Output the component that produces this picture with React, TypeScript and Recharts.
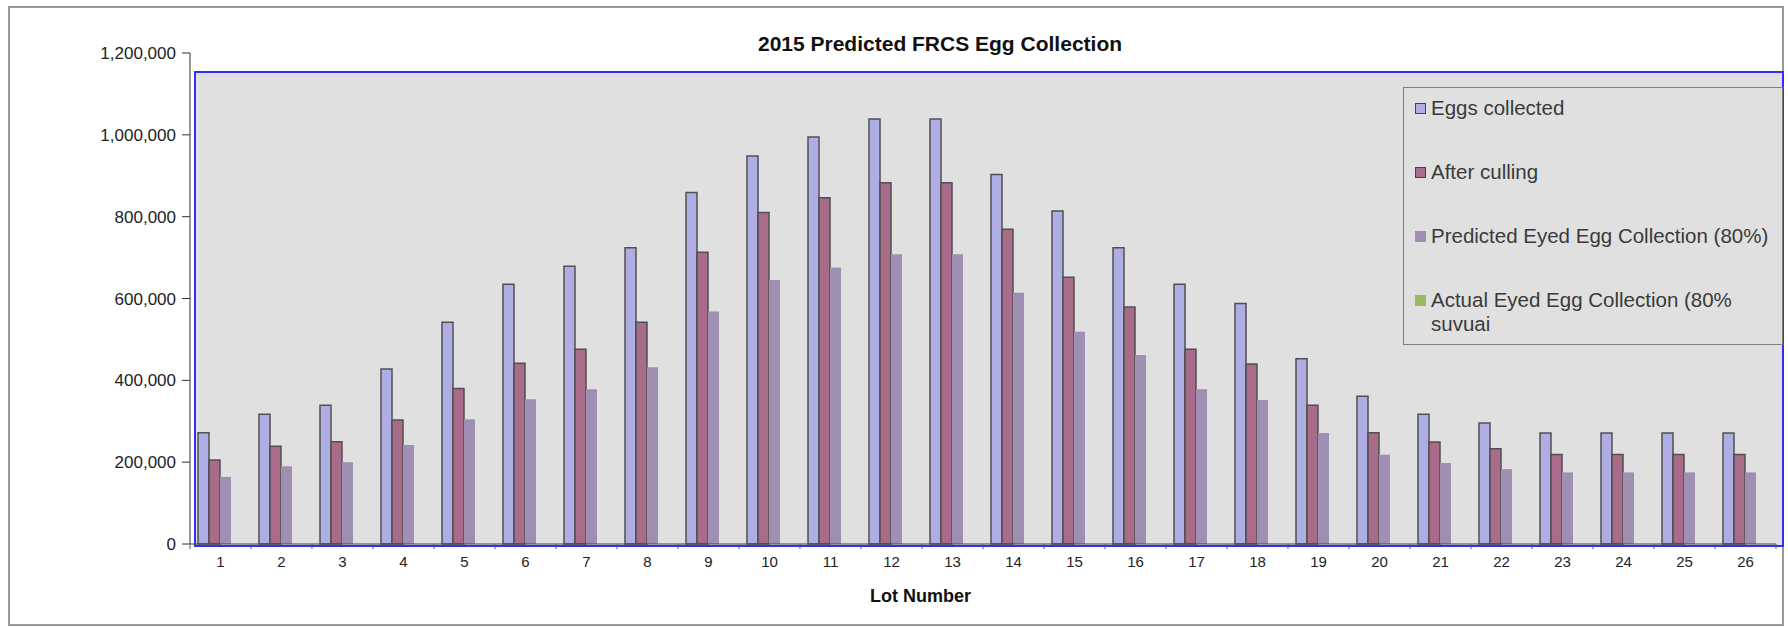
import { BarChart, Bar, XAxis, YAxis, Legend } from "recharts";

// lot numbers along the x axis
const LOTS = [
  "1", "2", "3", "4", "5", "6", "7", "8", "9", "10", "11", "12", "13",
  "14", "15", "16", "17", "18", "19", "20", "21", "22", "23", "24", "25", "26",
];

const EGGS_COLLECTED = [
  272000, 317000, 339000, 428000, 542000, 635000, 679000, 724000, 859000,
  948000, 995000, 1039000, 1039000, 903000, 814000, 724000, 635000, 588000,
  453000, 361000, 317000, 296000, 271000, 271000, 271000, 271000,
];

const AFTER_CULLING = [
  205000, 239000, 250000, 303000, 380000, 442000, 476000, 542000, 713000,
  810000, 846000, 883000, 883000, 769000, 652000, 579000, 476000, 440000,
  339000, 272000, 249000, 233000, 219000, 219000, 219000, 219000,
];

const PREDICTED_EYED = [
  164000, 190000, 200000, 242000, 305000, 354000, 378000, 432000, 568000,
  645000, 676000, 708000, 708000, 614000, 519000, 462000, 378000, 352000,
  271000, 218000, 198000, 183000, 175000, 175000, 175000, 175000,
];

// no actual numbers were entered yet in the source sheet
const ACTUAL_EYED: (number | null)[] = [];

const Y_TICKS = [0, 200000, 400000, 600000, 800000, 1000000, 1200000];

const SERIES = [
  { key: "eggs", name: "Eggs collected", fill: "#AEAEE4", stroke: "#505050" },
  { key: "culled", name: "After culling", fill: "#A86C8A", stroke: "#505050" },
  { key: "predicted", name: "Predicted Eyed Egg Collection (80%)", fill: "#9F8FB3", stroke: "none" },
  { key: "actual", name: "Actual Eyed Egg Collection (80% suvuai", fill: "#9BBB59", stroke: "none" },
];

const data = LOTS.map((lot, i) => ({
  lot,
  eggs: EGGS_COLLECTED[i],
  culled: AFTER_CULLING[i],
  predicted: PREDICTED_EYED[i],
  actual: ACTUAL_EYED[i] ?? null,
}));

const FONT = "'Liberation Sans', Arial, sans-serif";
const BAND = 1586 / LOTS.length;

function LotTick(props: any) {
  const { x, y, payload, index } = props;
  return (
    <g>
      <line x1={x - BAND / 2} x2={x - BAND / 2} y1={y} y2={y + 5} stroke="#555" />
      {index === LOTS.length - 1 && (
        <line x1={x + BAND / 2} x2={x + BAND / 2} y1={y} y2={y + 5} stroke="#555" />
      )}
      <text x={x} y={y + 23} textAnchor="middle" fontSize={15} fill="#222">
        {payload.value}
      </text>
    </g>
  );
}

// legend keeps the series order (recharts would sort it by name)
function LegendBox() {
  return (
    <div
      style={{
        boxSizing: "border-box",
        width: 380,
        height: 258,
        border: "1px solid #808080",
        background: "#e0e0e0",
        paddingTop: 8,
        paddingLeft: 11,
        fontFamily: FONT,
        fontSize: 20.5,
        color: "#3a3a3a",
      }}
    >
      {SERIES.map((s) => (
        <div
          key={s.key}
          style={{ display: "flex", alignItems: "flex-start", height: 24, marginBottom: 40, lineHeight: "24px" }}
        >
          <span
            style={{
              boxSizing: "border-box",
              display: "inline-block",
              width: 11,
              height: 11,
              marginTop: 7,
              marginRight: 5,
              background: s.fill,
              border: s.stroke !== "none" ? "1px solid #444" : "none",
              flexShrink: 0,
            }}
          />
          <span style={{ width: 350 }}>{s.name}</span>
        </div>
      ))}
    </div>
  );
}

export default function App() {
  return (
    <div style={{ position: "absolute", left: 0, top: 0, width: 1788, height: 628, background: "#fff", fontFamily: FONT }}>
      <div
        style={{
          position: "absolute", left: 8, top: 6, width: 1776, height: 620,
          boxSizing: "border-box", border: "2px solid #999",
        }}
      />
      <div
        style={{
          position: "absolute", left: 194, top: 71, width: 1590, height: 476,
          boxSizing: "border-box", background: "#e0e0e0", border: "2px solid #2f2ff8",
        }}
      />
      <div
        style={{
          position: "absolute", left: 740, top: 32, width: 400, textAlign: "center",
          fontSize: 21, fontWeight: "bold", lineHeight: "24px", color: "#111",
        }}
      >
        2015 Predicted FRCS Egg Collection
      </div>
      <div
        style={{
          position: "absolute", left: 870, top: 586, fontSize: 18, fontWeight: "bold",
          lineHeight: "20px", color: "#111", whiteSpace: "nowrap",
        }}
      >
        Lot Number
      </div>
      <div style={{ position: "absolute", left: 0, top: 0 }}>
        <BarChart
          width={1788}
          height={628}
          data={data}
          margin={{ top: 53, right: 12, bottom: 54, left: 0 }}
          barCategoryGap={8}
          barGap={0}
        >
          <XAxis
            dataKey="lot"
            height={30}
            tickLine={false}
            tickSize={0}
            tickMargin={0}
            axisLine={{ stroke: "#444" }}
            tick={<LotTick />}
            interval={0}
          />
          <YAxis
            width={190}
            domain={[0, 1200000]}
            ticks={Y_TICKS}
            tickSize={8}
            tickMargin={6}
            axisLine={{ stroke: "#333" }}
            tickLine={{ stroke: "#333" }}
            tick={{ fontSize: 17, fill: "#222" }}
            tickFormatter={(v: number) => v.toLocaleString("en-US")}
          />
          <Legend
            layout="vertical"
            align="center"
            verticalAlign="middle"
            wrapperStyle={{ position: "absolute", left: 1403, top: 87, width: 380, height: 258 }}
            content={<LegendBox />}
          />
          {SERIES.map((s) => (
            <Bar
              key={s.key}
              dataKey={s.key}
              name={s.name}
              fill={s.fill}
              stroke={s.stroke}
              strokeWidth={s.stroke === "none" ? 0 : 1.5}
              isAnimationActive={false}
            />
          ))}
        </BarChart>
      </div>
    </div>
  );
}
